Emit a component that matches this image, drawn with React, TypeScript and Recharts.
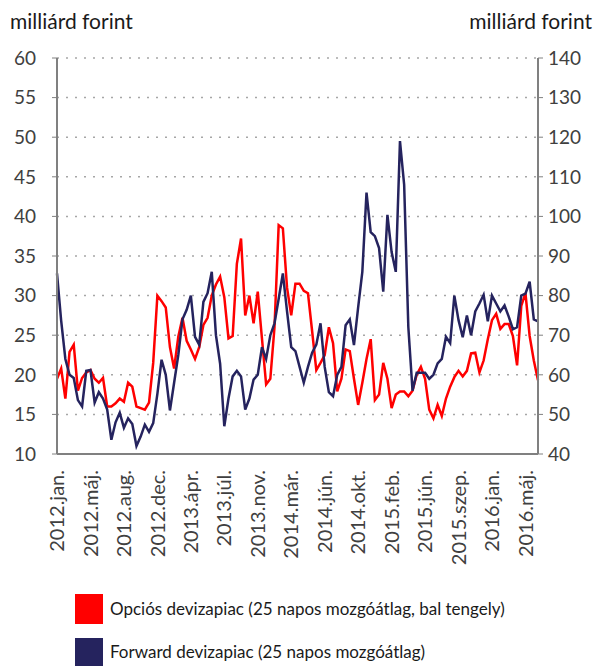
import React from 'react';
import { LineChart, Line, XAxis, YAxis, CartesianGrid } from 'recharts';

const tickLabels = [
  '2012.jan.', '2012.máj.', '2012.aug.', '2012.dec.', '2013.ápr.', '2013.júl.', '2013.nov.',
  '2014.már.', '2014.jún.', '2014.okt.', '2015.feb.', '2015.jún.', '2015.szep.', '2016.jan.', '2016.máj.',
];
const pointsPerLabel = 8;

const leftTicks = [10, 15, 20, 25, 30, 35, 40, 45, 50, 55, 60];
const rightTicks = [40, 50, 60, 70, 80, 90, 100, 110, 120, 130, 140];

// Opciós devizapiac (bal tengely, milliárd forint)
const opcios = [
  19.5, 20.8, 17, 22.9, 23.8, 18, 19.6, 20.3, 20.6, 19.5, 19, 19.6, 16, 16, 16.4, 17,
  16.6, 19, 18.5, 16, 15.8, 15.6, 16.5, 21.5, 30, 29.3, 28.5, 23.5, 20.8, 24.8, 27.2, 24.3,
  23.2, 22, 23.5, 26.3, 27.2, 30, 31.4, 32.4, 29.8, 24.6, 24.9, 34, 37.2, 27.5, 30, 26.5,
  30.5, 24.6, 18.8, 19.5, 26, 38.9, 38.5, 31, 27.5, 31.5, 31.5, 30.6, 30.3, 25.5, 20.6, 21.5,
  22.5, 26, 24, 17.9, 19.5, 23.2, 23, 19.5, 16.2, 19, 22, 24.5, 16.8, 17.5, 21.5, 19.5,
  15.8, 17.5, 17.9, 17.9, 17.3, 18, 20, 21, 19.5, 15.6, 14.5, 16.2, 14.8, 17, 18.5, 19.7,
  20.5, 19.8, 20.5, 22.7, 22.8, 20.3, 21.8, 24.5, 26.9, 27.7, 25.8, 26.4, 26.4, 24.9, 21.2, 28.7,
  30.3, 24.9, 21.8, 19.3,
];

// Forward devizapiac (jobb tengely, milliárd forint)
const forward = [
  85.6, 73.6, 64, 60, 59.2, 53.6, 52, 61, 61.2, 53, 55.6, 54, 51.2, 43.6, 48, 50.4,
  46.6, 49, 47.6, 42, 44.4, 47.4, 45.6, 47.8, 55.2, 63.8, 60, 51, 58, 65, 74, 76.4,
  80, 69.6, 67.6, 78.4, 80.6, 86, 70, 62.8, 47, 54, 59.6, 61, 59.6, 51.2, 54, 58.8,
  60, 67, 64, 70, 73, 79.2, 85.6, 76, 67, 66, 62, 58, 62, 65.6, 67.6, 73,
  62, 55.6, 54.6, 60, 62, 72.5, 74, 67.5, 77, 86, 106, 96, 95, 92, 81, 100.4,
  91, 86, 119, 108, 72, 56, 60.5, 60.5, 60.5, 59, 60, 62.9, 64, 69.6, 68, 80,
  73.8, 69.5, 75, 70, 76, 78, 80.2, 73.5, 80, 78, 76, 77.5, 74.7, 71.5, 72, 80,
  80.5, 83.5, 74, 73.5,
];

const seriesNames = {
  opcios: 'Opciós devizapiac (25 napos mozgóátlag, bal tengely)',
  forward: 'Forward devizapiac (25 napos mozgóátlag)',
};
const axisTitle = 'milliárd forint';

const data = opcios.map((v, i) => ({ idx: i, opcios: v, forward: forward[i] }));
const xTicks = tickLabels.map((_, k) => k * pointsPerLabel);

const FONT = 'Lato, "Noto Sans", sans-serif';
const RED = '#ff0000';
const NAVY = '#25235e';

const XTick = (props: any) => {
  const { x, y, payload } = props;
  const label = tickLabels[Math.round(payload.value / pointsPerLabel)] ?? '';
  return (
    <text
      x={x}
      y={y + 8}
      dy="0.36em"
      transform={`rotate(-90, ${x}, ${y + 8})`}
      textAnchor="end"
      fontSize={20}
      fontFamily={FONT}
      fill="#404040"
    >
      {label}
    </text>
  );
};

export default function App() {
  return (
    <div style={{ position: 'relative', width: 586, height: 658, overflow: 'hidden', fontFamily: FONT }}>
      <div style={{ position: 'absolute', left: 2, top: 0, fontSize: 21, lineHeight: 'normal', color: '#1a1a1a', whiteSpace: 'nowrap' }}>
        {axisTitle}
      </div>
      <div style={{ position: 'absolute', right: 2, top: 0, fontSize: 21, lineHeight: 'normal', color: '#1a1a1a', whiteSpace: 'nowrap' }}>
        {axisTitle}
      </div>
      <LineChart width={586} height={560} data={data} margin={{ top: 50, right: 0, bottom: 0, left: 0 }}>
        <CartesianGrid yAxisId="left" vertical={false} stroke="#a6a6a6" strokeDasharray="2 7" strokeWidth={1.5} />
        <XAxis
          dataKey="idx"
          type="category"
          ticks={xTicks}
          interval={0}
          tick={<XTick />}
          tickLine={false}
          axisLine={{ stroke: '#808080', strokeWidth: 2 }}
          height={114}
        />
        <YAxis
          yAxisId="left"
          domain={[10, 60]}
          ticks={leftTicks}
          interval={0}
          width={49}
          tickSize={5}
          tickMargin={16}
          axisLine={{ stroke: '#808080', strokeWidth: 2 }}
          tickLine={{ stroke: '#808080' }}
          tick={{ fontSize: 19, fill: '#404040', fontFamily: FONT }}
        />
        <YAxis
          yAxisId="right"
          orientation="right"
          domain={[40, 140]}
          ticks={rightTicks}
          interval={0}
          width={56}
          tickSize={5}
          tickMargin={5}
          axisLine={{ stroke: '#808080', strokeWidth: 2 }}
          tickLine={{ stroke: '#808080' }}
          tick={{ fontSize: 19, fill: '#404040', fontFamily: FONT }}
        />
        <Line
          yAxisId="left"
          dataKey="opcios"
          name={seriesNames.opcios}
          stroke={RED}
          strokeWidth={2.5}
          dot={false}
          type="linear"
          isAnimationActive={false}
        />
        <Line
          yAxisId="right"
          dataKey="forward"
          name={seriesNames.forward}
          stroke={NAVY}
          strokeWidth={2.5}
          dot={false}
          type="linear"
          isAnimationActive={false}
        />
      </LineChart>
      <div style={{ position: 'absolute', left: 67, top: 586, width: 28, height: 30, background: RED }} />
      <div style={{ position: 'absolute', left: 102, top: 590, fontSize: 17, lineHeight: '22px', color: '#1a1a1a', whiteSpace: 'nowrap' }}>
        {seriesNames.opcios}
      </div>
      <div style={{ position: 'absolute', left: 67, top: 630, width: 28, height: 30, background: NAVY }} />
      <div style={{ position: 'absolute', left: 102, top: 633, fontSize: 17, lineHeight: '22px', color: '#1a1a1a', whiteSpace: 'nowrap' }}>
        {seriesNames.forward}
      </div>
    </div>
  );
}
